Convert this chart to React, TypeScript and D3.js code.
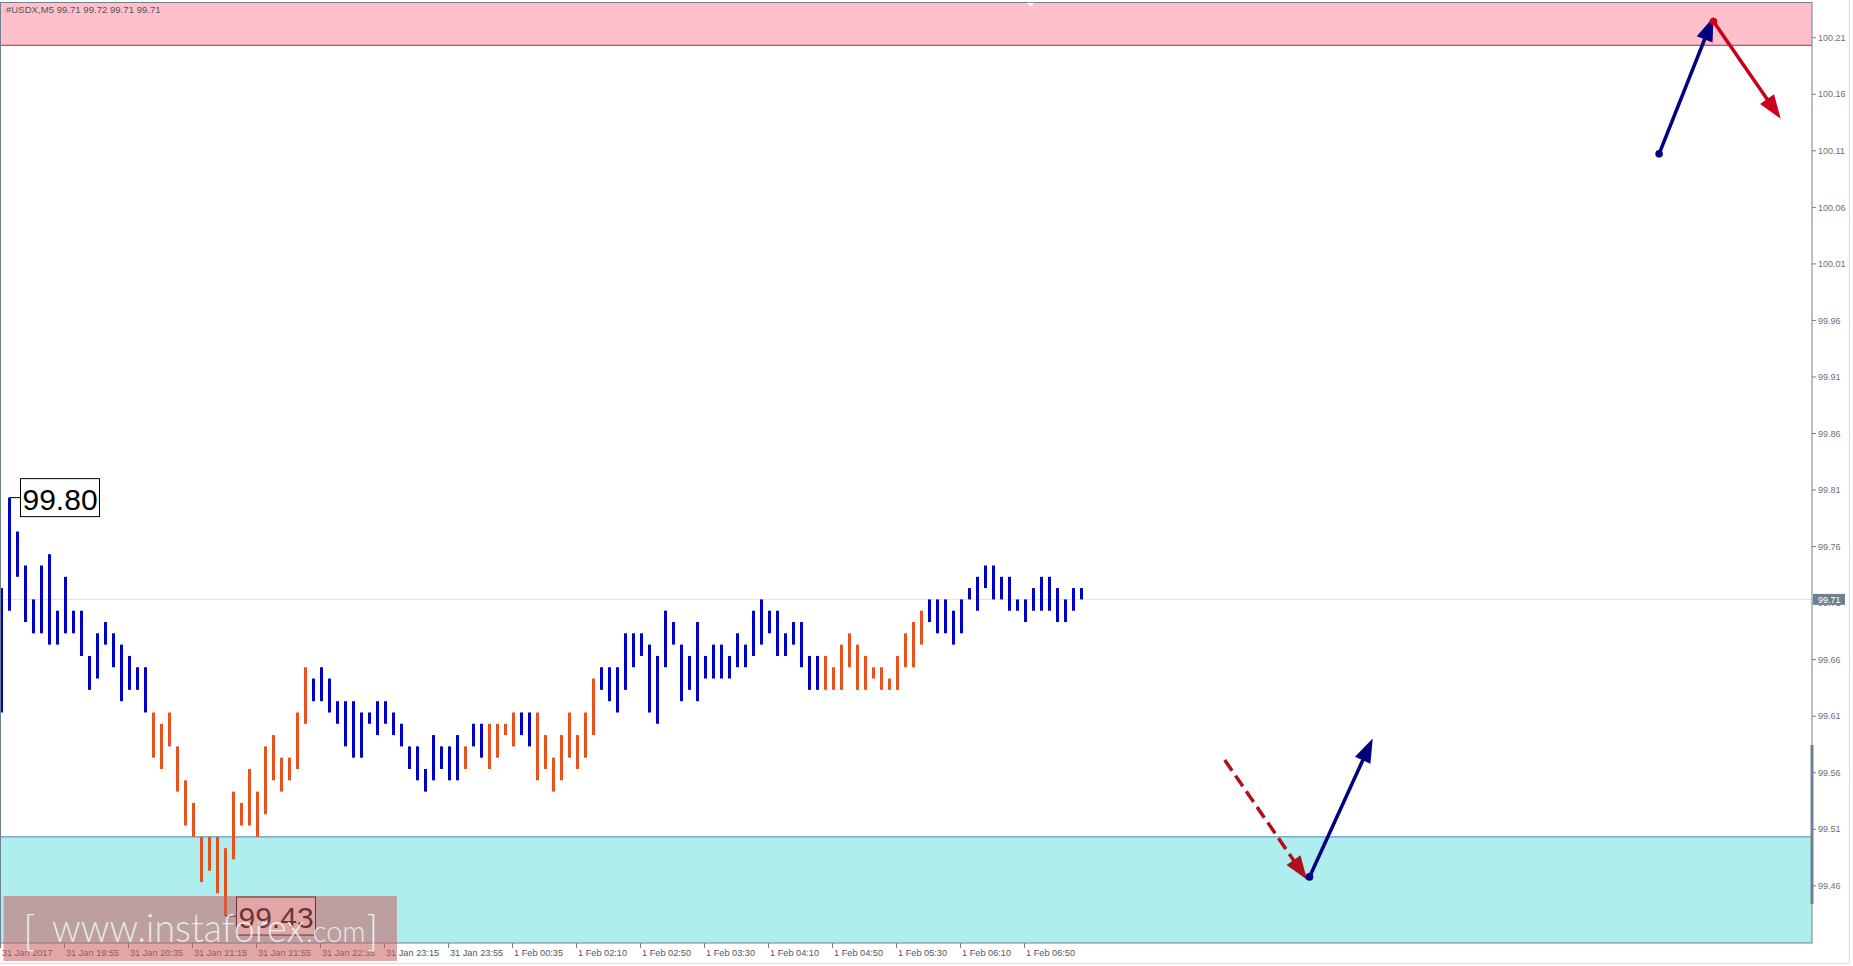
import React from 'react';
import * as d3 from 'd3';

// ---------- DATA ----------
const headerText = '#USDX,M5  99.71 99.72 99.71 99.71';
const barHighs = [
  99.72, 99.80, 99.77, 99.74, 99.71, 99.74, 99.75, 99.70, 99.73, 99.70,
  99.70, 99.66, 99.68, 99.69, 99.68, 99.67, 99.66, 99.65, 99.65, 99.61,
  99.60, 99.61, 99.58, 99.55, 99.53, 99.50, 99.50, 99.50, 99.49, 99.54,
  99.53, 99.56, 99.54, 99.58, 99.59, 99.57, 99.57, 99.61, 99.65, 99.64,
  99.65, 99.64, 99.62, 99.62, 99.62, 99.61, 99.61, 99.62, 99.62, 99.61,
  99.60, 99.58, 99.58, 99.56, 99.59, 99.58, 99.58, 99.59, 99.58, 99.60,
  99.60, 99.60, 99.60, 99.60, 99.61, 99.61, 99.61, 99.61, 99.59, 99.57,
  99.59, 99.61, 99.59, 99.61, 99.64, 99.65, 99.65, 99.65, 99.68, 99.68,
  99.68, 99.67, 99.66, 99.70, 99.69, 99.67, 99.66, 99.69, 99.66, 99.67,
  99.67, 99.66, 99.68, 99.67, 99.70, 99.71, 99.70, 99.70, 99.68, 99.69,
  99.69, 99.66, 99.66, 99.66, 99.65, 99.67, 99.68, 99.67, 99.66, 99.65,
  99.65, 99.64, 99.66, 99.68, 99.69, 99.70, 99.71, 99.71, 99.71, 99.70,
  99.71, 99.72, 99.73, 99.74, 99.74, 99.73, 99.73, 99.71, 99.71, 99.72,
  99.73, 99.73, 99.72, 99.71, 99.72, 99.72,
];
const barLows = [
  99.61, 99.70, 99.73, 99.69, 99.68, 99.68, 99.67, 99.67, 99.68, 99.68,
  99.66, 99.63, 99.64, 99.67, 99.65, 99.62, 99.63, 99.63, 99.61, 99.57,
  99.56, 99.58, 99.54, 99.51, 99.50, 99.46, 99.47, 99.45, 99.43, 99.48,
  99.51, 99.51, 99.50, 99.52, 99.55, 99.54, 99.55, 99.56, 99.60, 99.62,
  99.62, 99.61, 99.60, 99.58, 99.57, 99.57, 99.60, 99.59, 99.60, 99.59,
  99.58, 99.56, 99.55, 99.54, 99.55, 99.56, 99.55, 99.55, 99.56, 99.58,
  99.57, 99.56, 99.57, 99.59, 99.58, 99.59, 99.58, 99.55, 99.56, 99.54,
  99.55, 99.57, 99.56, 99.57, 99.59, 99.63, 99.62, 99.61, 99.63, 99.65,
  99.66, 99.61, 99.60, 99.65, 99.67, 99.62, 99.63, 99.62, 99.64, 99.64,
  99.64, 99.64, 99.65, 99.65, 99.66, 99.67, 99.68, 99.66, 99.66, 99.67,
  99.65, 99.63, 99.63, 99.63, 99.63, 99.63, 99.65, 99.63, 99.63, 99.64,
  99.63, 99.63, 99.63, 99.65, 99.65, 99.67, 99.69, 99.68, 99.68, 99.67,
  99.68, 99.71, 99.70, 99.72, 99.71, 99.71, 99.70, 99.70, 99.69, 99.70,
  99.70, 99.70, 99.69, 99.69, 99.70, 99.71,
];
// b = up-wave (blue), o = down-wave (orange)
const barColors = (
  'bbbbbbbbbbbbbbbbbbb' +
  'oooooooooooooooooooo' +
  'bbbbbbbbbbbbbbbbbbb' +
  'obboooobb' +
  'oooooooo' +
  'bbbbbbbbbbbbbbbbbbbbbbbbbbbb' +
  'ooooooooooooo' +
  'bbbbbbbbbbbbbbbbbbbb'
).split('');

const yTickLabels = [
  '100.21', '100.16', '100.11', '100.06', '100.01', '99.96', '99.91', '99.86',
  '99.81', '99.76', '99.71', '99.66', '99.61', '99.56', '99.51', '99.46',
];
const xTickLabels = [
  '31 Jan 2017', '31 Jan 19:55', '31 Jan 20:35', '31 Jan 21:15', '31 Jan 21:55',
  '31 Jan 22:35', '31 Jan 23:15', '31 Jan 23:55', '1 Feb 00:35', '1 Feb 02:10',
  '1 Feb 02:50', '1 Feb 03:30', '1 Feb 04:10', '1 Feb 04:50', '1 Feb 05:30',
  '1 Feb 06:10', '1 Feb 06:50',
];
const lastPrice = 99.71;
const resistanceZone = [100.2, 100.5];
const supportZone = [99.2, 99.5];
const extremes = [
  { bar: 1, price: 99.8, label: '99.80', kind: 'high' },
  { bar: 28, price: 99.43, label: '99.43', kind: 'low' },
];
// forecast arrows in (bar index, price)
const waveArrows = [
  { x0: 207.2, p0: 100.104, x1: 214.0, p1: 100.225, color: '#000080', dashed: false },
  { x0: 214.0, p0: 100.221, x1: 222.4, p1: 100.135, color: '#C8001E', dashed: false },
  { x0: 152.9, p0: 99.568, x1: 163.2, p1: 99.462, color: '#B0101E', dashed: true },
  { x0: 163.5, p0: 99.4646, x1: 171.4, p1: 99.587, color: '#000080', dashed: false },
];
const arrowDots = [
  { x: 207.2, p: 100.104, color: '#000080' },
  { x: 214.0, p: 100.221, color: '#C8001E' },
  { x: 163.5, p: 99.4646, color: '#000080' },
];

// ---------- LAYOUT ----------
const W = 1853;
const H = 966;
const PL = 0, PT = 2, PR = 1812, PB = 943;
const tickOffset = -0.0033;

const BLUE = '#0000CD';
const ORANGE = '#E8521E';
const AXIS = '#708090';

export default function App() {
  const x = d3.scaleLinear().domain([0, 1]).range([1.5, 9.5]);
  const y = d3.scaleLinear().domain([99.71, 100.21]).range([599.4, 34.0]);

  const arrowHead = (x0: number, y0: number, x1: number, y1: number) => {
    const dx = x1 - x0, dy = y1 - y0;
    const len = Math.hypot(dx, dy);
    const ux = dx / len, uy = dy / len;
    const L = 24, Wd = 8.5;
    const bx = x1 - ux * L, by = y1 - uy * L;
    return [
      [x1, y1],
      [bx - uy * Wd, by + ux * Wd],
      [bx + uy * Wd, by - ux * Wd],
    ].map((p) => p.join(',')).join(' ');
  };

  const font = "'Liberation Sans', Arial, sans-serif";

  return (
    <svg width={W} height={H} style={{ position: 'absolute', left: 0, top: 0, background: '#fff' }}
      fontFamily={font}>
      <rect x={0} y={0} width={W} height={H} fill="#fff" />
      <defs>
        <clipPath id="plotClip">
          <rect x={PL} y={PT} width={PR - PL} height={PB - PT} />
        </clipPath>
      </defs>

      {/* zones */}
      <g clipPath="url(#plotClip)">
        <rect x={PL} y={y(resistanceZone[1])} width={PR - PL}
          height={y(resistanceZone[0]) - y(resistanceZone[1])} fill="#FFC0CB" />
        <line x1={PL} x2={PR} y1={y(resistanceZone[0])} y2={y(resistanceZone[0])} stroke="#D0202A" strokeWidth={1} />
        <rect x={PL} y={y(supportZone[1])} width={PR - PL}
          height={y(supportZone[0]) - y(supportZone[1])} fill="#AFEEEE" />
        <line x1={PL} x2={PR} y1={y(supportZone[1])} y2={y(supportZone[1])} stroke="#4682B4" strokeWidth={1} />

        {/* last price line */}
        <line x1={PL} x2={PR} y1={y(lastPrice)} y2={y(lastPrice)} stroke="#E2E2EE" strokeWidth={1} />

        {/* bars */}
        {barHighs.map((h, i) => (
          <line key={i} x1={x(i)} x2={x(i)} y1={y(h)} y2={y(barLows[i])}
            stroke={barColors[i] === 'o' ? ORANGE : BLUE} strokeWidth={3} />
        ))}

        {/* arrows */}
        {waveArrows.map((a, i) => {
          const X0 = x(a.x0), Y0 = y(a.p0), X1 = x(a.x1), Y1 = y(a.p1);
          const len = Math.hypot(X1 - X0, Y1 - Y0);
          const k = (len - 18) / len;
          return (
            <g key={i}>
              <line x1={X0} y1={Y0} x2={X0 + (X1 - X0) * k} y2={Y0 + (Y1 - Y0) * k}
                stroke={a.color} strokeWidth={3.5}
                strokeDasharray={a.dashed ? '13 6' : undefined} />
              <polygon points={arrowHead(X0, Y0, X1, Y1)} fill={a.color} />
            </g>
          );
        })}
        {arrowDots.map((d, i) => (
          <circle key={i} cx={x(d.x)} cy={y(d.p)} r={3.8} fill={d.color} />
        ))}

        {/* extreme labels */}
        {extremes.map((e, i) => {
          const bx = x(e.bar);
          const yy = y(e.price);
          return (
            <g key={i}>
              <line x1={bx} x2={bx + 11} y1={yy} y2={yy} stroke="#000" strokeWidth={1} />
              <rect x={bx + 11} y={yy - 19} width={79} height={38} fill="#fff" stroke="#000" strokeWidth={1} />
              <text x={bx + 13} y={yy + 12} fontSize={30} fill="#000">{e.label}</text>
            </g>
          );
        })}
      </g>

      {/* plot frame */}
      <rect x={PL + 0.5} y={PT + 0.5} width={PR - PL - 0.5} height={PB - PT - 0.5} fill="none" stroke={AXIS} strokeWidth={1} />
      <rect x={PR - 1.5} y={745} width={3} height={159} fill={AXIS} />

      {/* header */}
      <text x={6} y={13} fontSize={9.6} fill="#555">{headerText}</text>
      <polygon points="1027,3 1034,3 1030.5,7" fill="#fff" stroke="#ddd" strokeWidth={0.5} />

      {/* right axis */}
      {yTickLabels.map((t, i) => {
        const yy = y(+t + tickOffset);
        return (
          <g key={i}>
            <line x1={PR} x2={PR + 4} y1={yy} y2={yy} stroke={AXIS} />
            <text x={PR + 6} y={yy + 3.2} fontSize={9} fill="#667080">{t}</text>
          </g>
        );
      })}
      <rect x={PR + 1} y={y(lastPrice) - 5.5} width={32} height={11} fill={AXIS} />
      <text x={PR + 6} y={y(lastPrice) + 3.4} fontSize={9} fill="#fff">{lastPrice.toFixed(2)}</text>

      {/* bottom axis */}
      {xTickLabels.map((t, k) => {
        const xx = x(8 * k) - 1;
        return (
          <g key={k}>
            <line x1={xx} x2={xx} y1={PB} y2={PB + 5} stroke={AXIS} />
            <text x={xx + 1.5} y={956} fontSize={9.2} fill="#555">{t}</text>
          </g>
        );
      })}

      {/* outer frame */}
      <line x1={1849.5} x2={1849.5} y1={0} y2={964} stroke="#dcdcdc" />
      <line x1={0} x2={1850} y1={963.5} y2={963.5} stroke="#dcdcdc" />

      {/* watermark */}
      <rect x={3.5} y={896} width={393.5} height={65} fill="rgb(200,95,95)" fillOpacity={0.55} />
      <g fill="rgb(236,250,250)" fillOpacity={0.85} fontFamily="Lato, 'Liberation Sans', sans-serif" fontWeight={300}>
        <text x={23} y={946} fontSize={42}>[</text>
        <text x={52} y={942} fontSize={38.5} textLength={252} lengthAdjust="spacingAndGlyphs">www.instaforex</text>
        <text x={306} y={942} fontSize={29}>.com</text>
        <text x={366} y={946} fontSize={42}>]</text>
      </g>
    </svg>
  );
}
